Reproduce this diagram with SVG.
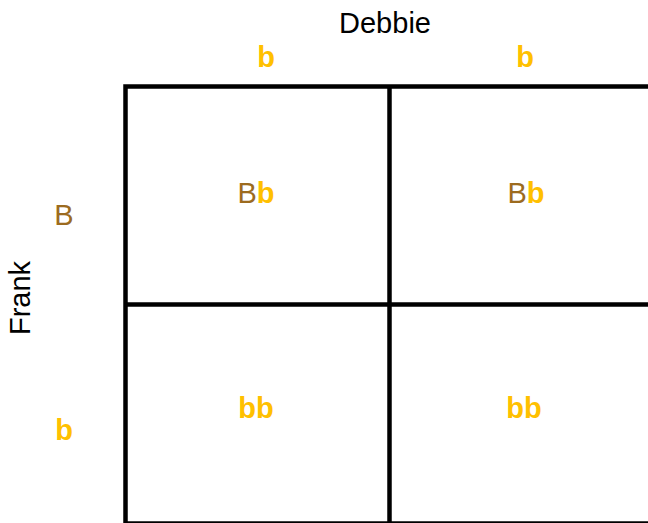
<svg xmlns="http://www.w3.org/2000/svg" width="648" height="523" viewBox="0 0 648 523">
<style>
  text { font-family: "Liberation Sans", Arial, sans-serif; font-size: 29px; text-anchor: middle; }
  .name { fill: #000000; }
  .B { fill: #9C6B1F; }
  .b { fill: #FFC000; font-weight: bold; }
  .grid { stroke: #000000; stroke-width: 4.5; fill: none; }
</style>
<rect width="648" height="523" fill="#FFFFFF"/>
<g id="connectors">
  <path class="grid" d="M125.5,525 V86.5 H650"/>
  <line class="grid" x1="389.5" y1="86.5" x2="389.5" y2="525"/>
  <line class="grid" x1="125.5" y1="304.5" x2="650" y2="304.5"/>
  <line class="grid" x1="125.5" y1="523.5" x2="650" y2="523.5"/>
</g>
<g id="debbie"><text class="name" x="385" y="33">Debbie</text></g>
<g id="debbie-allele-1"><text class="b" x="266" y="67">b</text></g>
<g id="debbie-allele-2"><text class="b" x="525" y="67">b</text></g>
<g id="frank"><text class="name" transform="translate(30,298) rotate(-90)" x="0" y="0">Frank</text></g>
<g id="frank-allele-1"><text class="B" x="64" y="225">B</text></g>
<g id="frank-allele-2"><text class="b" x="64" y="440">b</text></g>
<g id="cell-1"><text x="256" y="203"><tspan class="B">B</tspan><tspan class="b">b</tspan></text></g>
<g id="cell-2"><text x="526" y="203"><tspan class="B">B</tspan><tspan class="b">b</tspan></text></g>
<g id="cell-3"><text class="b" x="256" y="418">bb</text></g>
<g id="cell-4"><text class="b" x="524" y="418">bb</text></g>
</svg>
